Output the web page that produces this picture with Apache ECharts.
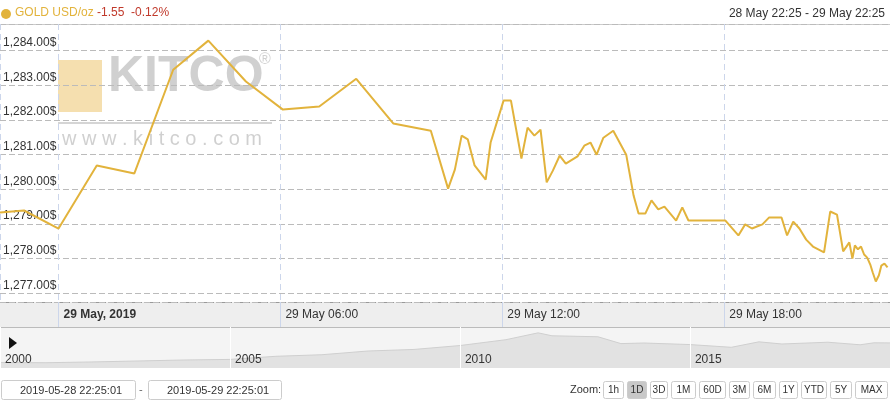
<!DOCTYPE html>
<html>
<head>
<meta charset="utf-8">
<script src="https://cdn.jsdelivr.net/npm/echarts@6/dist/echarts.min.js"></script>
<style>
  html, body { margin: 0; padding: 0; background: #fff; }
  #chart { width: 890px; height: 400px; }
</style>
</head>
<body>
<div id="chart"></div>
<script>
// gold price, 28 May 22:25 - 29 May 22:25
const times = ['2019-05-28 22:25','2019-05-28 23:04','2019-05-29 00:00','2019-05-29 01:02','2019-05-29 02:03',
  '2019-05-29 03:06','2019-05-29 04:03','2019-05-29 05:04','2019-05-29 06:04','2019-05-29 07:03',
  '2019-05-29 08:03','2019-05-29 09:03','2019-05-29 10:04','2019-05-29 10:32','2019-05-29 10:43',
  '2019-05-29 10:54','2019-05-29 11:04','2019-05-29 11:15','2019-05-29 11:33','2019-05-29 11:41',
  '2019-05-29 12:02','2019-05-29 12:14','2019-05-29 12:31','2019-05-29 12:41','2019-05-29 12:52',
  '2019-05-29 13:02','2019-05-29 13:12','2019-05-29 13:22','2019-05-29 13:33','2019-05-29 13:43',
  '2019-05-29 14:02','2019-05-29 14:13','2019-05-29 14:23','2019-05-29 14:33','2019-05-29 14:44',
  '2019-05-29 15:00','2019-05-29 15:21','2019-05-29 15:33','2019-05-29 15:41','2019-05-29 15:52',
  '2019-05-29 16:02','2019-05-29 16:13','2019-05-29 16:23','2019-05-29 16:42','2019-05-29 16:52',
  '2019-05-29 17:02','2019-05-29 18:02','2019-05-29 18:23','2019-05-29 18:34','2019-05-29 18:45',
  '2019-05-29 19:02','2019-05-29 19:13','2019-05-29 19:33','2019-05-29 19:42','2019-05-29 19:52',
  '2019-05-29 20:02','2019-05-29 20:13','2019-05-29 20:24','2019-05-29 20:42','2019-05-29 20:52',
  '2019-05-29 21:03','2019-05-29 21:13','2019-05-29 21:23','2019-05-29 21:28','2019-05-29 21:32',
  '2019-05-29 21:37','2019-05-29 21:42','2019-05-29 21:47','2019-05-29 21:52','2019-05-29 21:57',
  '2019-05-29 22:01','2019-05-29 22:06','2019-05-29 22:11','2019-05-29 22:15','2019-05-29 22:20',
  '2019-05-29 22:25'];
const prices = [1279.33,1279.39,1278.87,1280.69,1280.46,
  1283.45,1284.29,1283.11,1282.30,1282.39,
  1283.19,1281.90,1281.69,1280.02,1280.57,
  1281.55,1281.44,1280.69,1280.28,1281.35,
  1282.56,1282.56,1280.89,1281.78,1281.55,
  1281.72,1280.20,1280.54,1280.97,1280.74,
  1280.95,1281.26,1281.35,1281.00,1281.49,
  1281.69,1281.00,1279.82,1279.30,1279.30,
  1279.68,1279.42,1279.50,1279.10,1279.48,
  1279.10,1279.10,1278.67,1278.99,1278.87,
  1278.99,1279.19,1279.19,1278.67,1279.07,
  1278.87,1278.55,1278.35,1278.18,1279.36,
  1279.27,1278.21,1278.47,1278.00,1278.38,
  1278.27,1278.35,1278.12,1278.03,1277.83,
  1277.60,1277.34,1277.52,1277.80,1277.86,
  1277.75];

// navigator: long-term history
const navYears = [2000,2001,2002,2003,2004,2005,2006,2007,2008,2009,2010,2011,2011.7,2012,2013,2013.5,2014,2015,2015.9,2016.5,2017,2018,2018.7,2019,2019.35];
const navPrices = [280,270,310,360,410,440,600,680,870,950,1150,1450,1800,1650,1600,1250,1280,1200,1060,1340,1230,1320,1190,1290,1285];

const yTicks = [1277,1278,1279,1280,1281,1282,1283,1284];
const navLabels = ['2000','2005','2010','2015'];
const zoomButtons = ['1h','1D','3D','1M','60D','3M','6M','1Y','YTD','5Y','MAX'];
const selectedButton = '1D';

const base = Date.UTC(2019, 4, 29, 0, 0);
const toHours = s => {
  const [d, t] = s.split(' ');
  const [Y, M, D] = d.split('-').map(Number);
  const [h, m] = t.split(':').map(Number);
  return (Date.UTC(Y, M - 1, D, h, m) - base) / 3600000;
};
const mainData = times.map((t, i) => [toHours(t), prices[i]]);
const xMin = toHours('2019-05-28 22:25');
const xMax = toHours('2019-05-29 22:29');

const font = 'Liberation Sans, Arial, sans-serif';
const gold = '#e2b33c';

const btnX = [603,627,650,671,699,729,753,779,801,830,855];
const btnW = [20,19,17,24,26,20,22,18,25,21,32];

const graphics = [
  { type: 'rect', silent: true, z: -1, shape: { x: 0, y: 302, width: 890, height: 25 }, style: { fill: '#eeeeee' } },
  { type: 'rect', silent: true, z: -1, shape: { x: 0, y: 327, width: 890, height: 41 }, style: { fill: '#f4f4f4' } },
  { type: 'line', silent: true, shape: { x1: 0, y1: 302.5, x2: 890, y2: 302.5 }, style: { stroke: '#999', lineDash: [4, 2] } },
  { type: 'line', silent: true, shape: { x1: 0, y1: 327.5, x2: 890, y2: 327.5 }, style: { stroke: '#bbb' } },
  { type: 'polygon', silent: true, shape: { points: [[9, 337], [9, 349], [17, 343]] }, style: { fill: '#111' } },
  // watermark
  { type: 'rect', silent: true, z: 0, shape: { x: 58, y: 60, width: 44, height: 52 }, style: { fill: 'rgba(236,196,110,0.55)' } },
  { type: 'text', silent: true, z: 0, left: 108, top: 52, style: { text: 'KITCO', font: 'bold 50px ' + font, fill: 'rgba(150,150,150,0.45)' } },
  { type: 'text', silent: true, z: 0, left: 259, top: 52, style: { text: '®', font: '16px ' + font, fill: 'rgba(150,150,150,0.45)' } },
  { type: 'line', silent: true, z: 0, shape: { x1: 58, y1: 123, x2: 272, y2: 123 }, style: { stroke: 'rgba(150,150,150,0.4)', lineWidth: 2 } },
  { type: 'text', silent: true, z: 0, left: 62, top: 129, style: { text: 'w w w . k i t c o . c o m', font: '20px ' + font, fill: 'rgba(150,150,150,0.45)' } },
  // header
  { type: 'circle', silent: true, shape: { cx: 6, cy: 14, r: 5 }, style: { fill: gold } },
  { type: 'text', silent: true, left: 15, top: 7, style: {
      text: '{a|GOLD USD/oz} {b|-1.55  -0.12%}',
      rich: { a: { fill: gold, font: '12px ' + font }, b: { fill: '#c0392b', font: '12px ' + font } } } },
  { type: 'text', silent: true, right: 5, top: 8, style: { text: '28 May 22:25 - 29 May 22:25', font: '12px ' + font, fill: '#333' } },
  { type: 'line', silent: true, shape: { x1: 0, y1: 24.5, x2: 890, y2: 24.5 }, style: { stroke: '#ccc' } },
  // date inputs
  { type: 'rect', silent: true, shape: { x: 1.5, y: 380.5, width: 134, height: 19, r: 2 }, style: { fill: '#fff', stroke: '#ccc' } },
  { type: 'text', silent: true, left: 20, top: 385, style: { text: '2019-05-28 22:25:01', font: '11px ' + font, fill: '#333' } },
  { type: 'text', silent: true, left: 139, top: 384, style: { text: '-', font: '11px ' + font, fill: '#666' } },
  { type: 'rect', silent: true, shape: { x: 148.5, y: 380.5, width: 133, height: 19, r: 2 }, style: { fill: '#fff', stroke: '#ccc' } },
  { type: 'text', silent: true, left: 167, top: 385, style: { text: '2019-05-29 22:25:01', font: '11px ' + font, fill: '#333' } },
  { type: 'text', silent: true, left: 570, top: 384, style: { text: 'Zoom:', font: '11px ' + font, fill: '#333' } }
];
zoomButtons.forEach((b, i) => {
  graphics.push({ type: 'rect', silent: true, shape: { x: btnX[i] + 0.5, y: 381.5, width: btnW[i], height: 17, r: 2 },
    style: { fill: b === selectedButton ? '#c8c8c8' : '#fff', stroke: '#ccc' } });
  graphics.push({ type: 'text', silent: true, x: btnX[i] + btnW[i] / 2 + 0.5, y: 390,
    style: { text: b, font: '10px ' + font, fill: '#333', align: 'center', verticalAlign: 'middle' } });
});

const chart = echarts.init(document.getElementById('chart'));
chart.setOption({
  animation: false,
  grid: [
    { left: 0, right: 0, top: 24, height: 278 },
    { left: 0, right: 0, top: 327, height: 41 }
  ],
  xAxis: [{
    type: 'value', gridIndex: 0, min: xMin, max: xMax, minInterval: 6, maxInterval: 6,
    axisLine: { show: false },
    axisTick: { show: true, length: 25, lineStyle: { color: '#ccd6eb' } },
    splitLine: { show: true, lineStyle: { color: '#ccd6eb', type: [6, 4] } },
    axisLabel: {
      showMinLabel: false, showMaxLabel: false, align: 'left', margin: 7, padding: [0, 0, 0, 5],
      fontFamily: font, fontSize: 12, color: '#333',
      formatter: v => v === 0 ? '{b|29 May, 2019}' : '29 May ' + String(v).padStart(2, '0') + ':00',
      rich: { b: { fontWeight: 'bold', fontFamily: font, fontSize: 12, color: '#333' } }
    }
  }, {
    type: 'value', gridIndex: 1, min: 2000, max: 2019.35, interval: 5, z: 5,
    axisLine: { show: false }, axisTick: { show: false },
    splitLine: { show: true, lineStyle: { color: '#fff', width: 1 } },
    axisLabel: {
      inside: true, showMaxLabel: false, align: 'left', margin: 2, padding: [0, 0, 0, 5],
      fontFamily: font, fontSize: 12, color: '#333', verticalAlign: 'bottom',
      formatter: v => navLabels[navLabels.indexOf(String(v))] || ''
    }
  }],
  yAxis: [{
    type: 'value', gridIndex: 0, min: 1276.75, max: 1284.77, splitNumber: 8,
    axisLine: { show: false }, axisTick: { show: false },
    splitLine: { lineStyle: { color: '#bbb', type: [6, 3] } },
    axisLabel: {
      inside: true, showMinLabel: false, showMaxLabel: false, verticalAlign: 'bottom', margin: 3,
      padding: [0, 0, 2, 0], fontFamily: font, fontSize: 12, color: '#333',
      formatter: v => yTicks.includes(v) ? v.toLocaleString('en-US', { minimumFractionDigits: 2 }) + '$' : ''
    }
  }, {
    type: 'value', gridIndex: 1, min: 0, max: 2100,
    axisLine: { show: false }, axisTick: { show: false }, axisLabel: { show: false }, splitLine: { show: false }
  }],
  series: [{
    type: 'line', xAxisIndex: 0, yAxisIndex: 0, data: mainData, showSymbol: false,
    lineStyle: { color: gold, width: 2 }, z: 5
  }, {
    type: 'line', xAxisIndex: 1, yAxisIndex: 1, data: navYears.map((y, i) => [y, navPrices[i]]), showSymbol: false,
    lineStyle: { color: '#cfcfcf', width: 1 }, areaStyle: { color: '#e2e2e2', opacity: 1 }, z: 1
  }],
  graphic: graphics
});
</script>
</body>
</html>
